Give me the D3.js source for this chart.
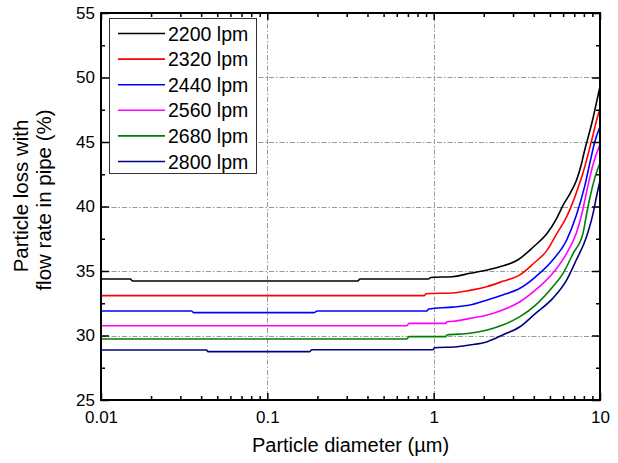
<!DOCTYPE html>
<html>
<head>
<meta charset="utf-8">
<script src="https://cdn.jsdelivr.net/npm/d3@7"></script>
<style>
  body { margin: 0; background: #fff; }
  text { font-family: 'Liberation Sans', Arial, sans-serif; fill: #000; }
</style>
</head>
<body>
<div id="chart"></div>
<script>
// flow rates (legend) and colours
const flowRates = ['2200 lpm', '2320 lpm', '2440 lpm', '2560 lpm', '2680 lpm', '2800 lpm']
const colors = ['#000000', '#ff0000', '#0000ff', '#ff00ff', '#008000', '#000080']

// particle diameter (um) and loss (%), one pair per flow rate
const d2200 = [0.01, 0.015, 0.0155, 0.35, 0.36, 0.93, 0.96, 1.3, 1.65, 2.1, 2.5, 3.2, 4, 4.8, 5.5, 6.0, 6.6, 7.2, 7.7, 8.1, 8.5, 9.1, 9.5, 10]
const loss2200 = [34.38, 34.38, 34.22, 34.22, 34.38, 34.38, 34.5, 34.56, 34.82, 35.08, 35.33, 35.85, 36.9, 37.9, 39.1, 40.1, 41.0, 42.0, 43.2, 44.4, 45.4, 46.9, 48.0, 49.3]

const d2320 = [0.01, 0.88, 0.9, 1.3, 1.65, 2.1, 2.6, 3.3, 4, 4.8, 5.5, 6.3, 6.9, 7.4, 7.9, 8.5, 9.1, 9.5, 10]
const loss2320 = [33.09, 33.09, 33.24, 33.3, 33.5, 33.8, 34.2, 34.7, 35.6, 36.6, 37.9, 39.2, 40.4, 41.5, 42.6, 44.1, 45.6, 46.6, 47.6]

const d2440 = [0.01, 0.035, 0.036, 0.19, 0.2, 0.91, 0.93, 1.3, 1.65, 2.1, 2.6, 3.3, 4.1, 5.2, 6.3, 7.2, 8.1, 8.7, 9.3, 10]
const loss2440 = [31.9, 31.9, 31.77, 31.77, 31.9, 31.9, 32.05, 32.2, 32.36, 32.75, 33.14, 33.66, 34.55, 35.85, 37.4, 39.3, 41.6, 43.4, 45.0, 46.2]

const d2560 = [0.01, 0.69, 0.71, 1.18, 1.2, 1.31, 1.65, 2.1, 2.6, 3.3, 4.1, 5.2, 6.3, 7.2, 7.8, 8.2, 8.7, 9.3, 10]
const loss2560 = [30.76, 30.76, 30.94, 30.94, 31.07, 31.1, 31.33, 31.59, 31.98, 32.62, 33.53, 34.82, 36.37, 37.92, 39.5, 40.8, 42.3, 43.7, 44.8]

const d2680 = [0.01, 0.69, 0.71, 1.18, 1.2, 1.65, 2.1, 2.6, 3.3, 4.1, 5.2, 6.0, 6.9, 7.9, 8.3, 8.7, 9.3, 10]
const loss2680 = [29.73, 29.73, 29.91, 29.91, 30.04, 30.17, 30.43, 30.81, 31.46, 32.36, 33.78, 34.82, 36.37, 37.92, 39.4, 40.7, 42.2, 43.4]

const d2800 = [0.01, 0.043, 0.044, 0.18, 0.185, 0.99, 1.01, 1.38, 1.65, 2.1, 2.6, 3.3, 4.1, 5.2, 6.3, 7.2, 8.3, 9.1, 9.5, 10]
const loss2800 = [28.88, 28.88, 28.75, 28.75, 28.9, 28.9, 29.05, 29.13, 29.26, 29.52, 30.04, 30.68, 31.72, 32.88, 34.3, 35.85, 37.66, 39.5, 40.7, 42.0]

const diameters = [d2200, d2320, d2440, d2560, d2680, d2800]
const losses = [loss2200, loss2320, loss2440, loss2560, loss2680, loss2800]

// axis ticks
const xMajor = [0.01, 0.1, 1, 10]
const xMinor = [2, 3, 4, 5, 6, 7, 8, 9].flatMap(m => [m * 0.01, m * 0.1, m])
const yMajor = [25, 30, 35, 40, 45, 50, 55]
const yMinor = [27.5, 32.5, 37.5, 42.5, 47.5, 52.5]

const margin = { top: 13, left: 101, right: 18, bottom: 63 }
const width = 618 - margin.left - margin.right
const height = 463 - margin.top - margin.bottom

const svg = d3
  .select('#chart')
  .append('svg')
  .attr('width', 618)
  .attr('height', 463)
  .append('g')
  .attr('transform', 'translate(' + margin.left + ',' + margin.top + ')')

const x = d3.scaleLog().domain([0.01, 10]).range([0, width])
const y = d3.scaleLinear().domain([25, 55]).range([height, 0])

// grid lines
const grid = svg.append('g').attr('stroke', '#999').attr('stroke-width', 1)
  .attr('stroke-dasharray', '5,2,1.5,2')
grid.selectAll('.gx')
  .data([0.1, 1])
  .enter()
  .append('line')
  .attr('x1', d => Math.round(x(d)) + 0.5)
  .attr('x2', d => Math.round(x(d)) + 0.5)
  .attr('y1', 0)
  .attr('y2', height)
grid.selectAll('.gy')
  .data([30, 35, 40, 45, 50])
  .enter()
  .append('line')
  .attr('x1', 0)
  .attr('x2', width)
  .attr('y1', d => Math.round(y(d)) + 0.5)
  .attr('y2', d => Math.round(y(d)) + 0.5)

// curves
const line = d3.line()
  .x(d => x(d[0]))
  .y(d => y(d[1]))
  .curve(d3.curveMonotoneX)

flowRates.forEach((name, i) => {
  const pts = diameters[i].map((d, j) => [d, losses[i][j]])
  svg.append('path')
    .datum(pts)
    .attr('fill', 'none')
    .attr('stroke', colors[i])
    .attr('stroke-width', 1.6)
    .attr('stroke-linejoin', 'round')
    .attr('d', line)
})

// axes, ticks inward
function styleAxis(g) {
  g.selectAll('.domain').remove()
  g.selectAll('.tick line').attr('stroke', '#000').attr('stroke-width', 1.5)
  g.selectAll('.tick text')
    .style('font-family', "'Liberation Sans', Arial, sans-serif")
    .style('font-size', '17px')
    .attr('fill', '#000')
}

svg.append('g')
  .attr('transform', 'translate(0,' + height + ')')
  .call(d3.axisBottom(x).tickValues(xMajor).tickFormat(d => String(d)).tickSize(-7).tickPadding(11))
  .call(styleAxis)
svg.append('g')
  .attr('transform', 'translate(0,' + height + ')')
  .call(d3.axisBottom(x).tickValues(xMinor).tickFormat('').tickSize(-4))
  .call(styleAxis)
svg.append('g')
  .call(d3.axisTop(x).tickValues(xMajor).tickFormat('').tickSize(-7))
  .call(styleAxis)
svg.append('g')
  .call(d3.axisTop(x).tickValues(xMinor).tickFormat('').tickSize(-4))
  .call(styleAxis)

svg.append('g')
  .call(d3.axisLeft(y).tickValues(yMajor).tickSize(-8).tickPadding(6))
  .call(styleAxis)
svg.append('g')
  .call(d3.axisLeft(y).tickValues(yMinor).tickFormat('').tickSize(-4))
  .call(styleAxis)
svg.append('g')
  .attr('transform', 'translate(' + width + ',0)')
  .call(d3.axisRight(y).tickValues(yMajor).tickFormat('').tickSize(-8))
  .call(styleAxis)
svg.append('g')
  .attr('transform', 'translate(' + width + ',0)')
  .call(d3.axisRight(y).tickValues(yMinor).tickFormat('').tickSize(-4))
  .call(styleAxis)

// frame
svg.append('rect')
  .attr('x', 0)
  .attr('y', 0)
  .attr('width', width)
  .attr('height', height)
  .attr('fill', 'none')
  .attr('stroke', '#000')
  .attr('stroke-width', 2)

// legend
const legend = svg.append('g').attr('transform', 'translate(8,5)')
legend.append('rect')
  .attr('x', 0.5)
  .attr('y', 0.5)
  .attr('width', 147)
  .attr('height', 155)
  .attr('fill', '#fff')
  .attr('stroke', '#333')
  .attr('stroke-width', 1)
const items = legend.selectAll('.item')
  .data(flowRates)
  .enter()
  .append('g')
  .attr('transform', (d, i) => 'translate(0,' + (15.5 + i * 25.6) + ')')
items.append('line')
  .attr('x1', 9)
  .attr('x2', 56)
  .attr('y1', 0)
  .attr('y2', 0)
  .attr('stroke', (d, i) => colors[i])
  .attr('stroke-width', 1.6)
items.append('text')
  .attr('x', 59)
  .attr('y', 7)
  .style('font-size', '19.5px')
  .text(d => d)

// axis titles
svg.append('text')
  .attr('x', width / 2)
  .attr('y', height + 52)
  .attr('text-anchor', 'middle')
  .style('font-size', '20px')
  .text('Particle diameter (\u00b5m)')

svg.append('text')
  .attr('transform', 'translate(' + (28 - margin.left) + ',' + (196 - margin.top) + ') rotate(-90)')
  .attr('text-anchor', 'middle')
  .style('font-size', '20.5px')
  .text('Particle loss with')
svg.append('text')
  .attr('transform', 'translate(' + (51 - margin.left) + ',' + (200 - margin.top) + ') rotate(-90)')
  .attr('text-anchor', 'middle')
  .style('font-size', '20.5px')
  .text('flow rate in pipe (%)')
</script>
</body>
</html>
